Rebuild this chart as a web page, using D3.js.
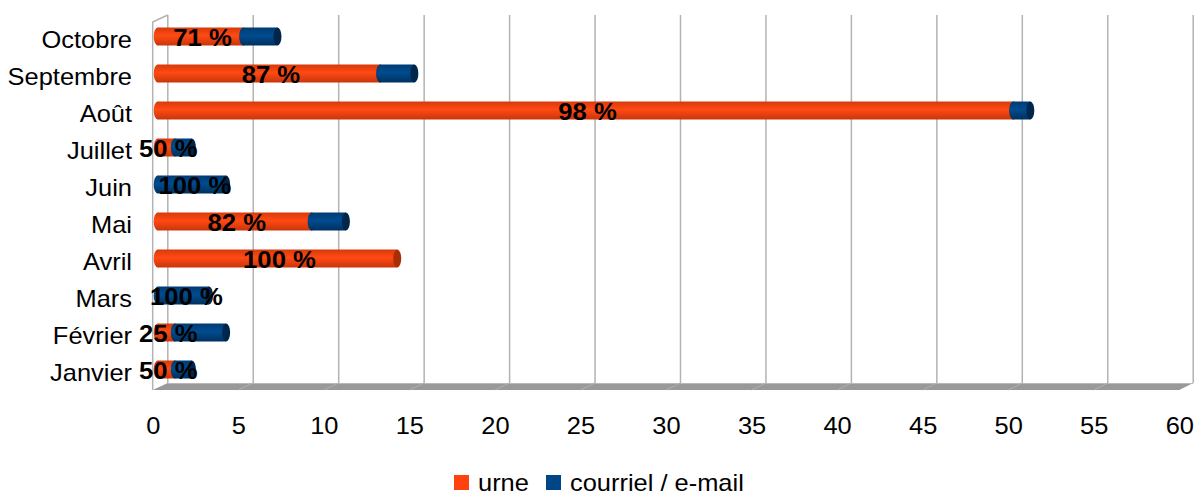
<!DOCTYPE html>
<html>
<head>
<meta charset="utf-8">
<script src="https://cdn.jsdelivr.net/npm/d3@7"></script>
<style>
  body { margin: 0; background: #fff; }
  svg { display: block; font-family: "Liberation Sans", Arial, sans-serif; }
</style>
</head>
<body>
<svg id="chart" width="1194" height="497"></svg>
<script>
// data, Janvier -> Octobre
const months = ["Janvier", "Février", "Mars", "Avril", "Mai", "Juin", "Juillet", "Août", "Septembre", "Octobre"];
const urne = [1, 1, 0, 14, 9, 0, 1, 50, 13, 5];
const courriel = [1, 3, 3, 0, 2, 4, 1, 1, 2, 2];
const pctLabels = ["50 %", "25 %", "100 %", "100 %", "82 %", "100 %", "50 %", "98 %", "87 %", "71 %"];
const series = ["urne", "courriel / e-mail"];
const xTicks = d3.range(0, 61, 5);

const colors = { urne: "#ff420e", courriel: "#004586" };

const svg = d3.select("#chart");

// text in the original is a bit wider than the font here
const stretch = 1.06;

// 3D-ish box: front plane and back plane
const floorBack = 383, floorFront = 390, wallTop = 15;
const xFront = d3.scaleLinear().domain([0, 60]).range([152.7, 1179.3]);
const xBack = d3.scaleLinear().domain([0, 60]).range([167.8, 1193.2]);
const xBar = d3.scaleLinear().domain([0, 60]).range([157.7, 1184.3]);

const y = d3.scaleBand()
  .domain(months.slice().reverse())
  .range([18, 388])
  .paddingInner(0.5)
  .paddingOuter(0.25);

const defs = svg.append("defs");
function grad(id, top, mid, bottom) {
  const g = defs.append("linearGradient").attr("id", id)
    .attr("x1", 0).attr("y1", 0).attr("x2", 0).attr("y2", 1);
  g.append("stop").attr("offset", "0%").attr("stop-color", top);
  g.append("stop").attr("offset", "45%").attr("stop-color", mid);
  g.append("stop").attr("offset", "100%").attr("stop-color", bottom);
}
grad("gUrne", "#d8390b", "#ff4a14", "#c9350a");
grad("gCour", "#003b73", "#004c90", "#00305e");

// back gridlines
svg.append("g")
  .selectAll("line")
  .data(xTicks)
  .enter().append("line")
  .attr("x1", d => xBack(d)).attr("x2", d => xBack(d))
  .attr("y1", wallTop).attr("y2", floorBack)
  .attr("stroke", "#b3b3b3")
  .attr("stroke-width", 1.5);

// left side wall edges
svg.append("path")
  .attr("d", `M${xFront(0)},${floorFront} L${xFront(0)},${wallTop + 7} L${xBack(0)},${wallTop}`)
  .attr("fill", "none")
  .attr("stroke", "#b3b3b3")
  .attr("stroke-width", 1.5);

// floor
svg.append("path")
  .attr("d", `M${xBack(0)},${floorBack} L${xBack(60)},${floorBack} L${xFront(60)},${floorFront} L${xFront(0)},${floorFront} Z`)
  .attr("fill", "#999999");
svg.append("line")
  .attr("x1", xBack(0)).attr("x2", xBack(60))
  .attr("y1", floorBack + 0.5).attr("y2", floorBack + 0.5)
  .attr("stroke", "#b8b8b8");
svg.append("g")
  .selectAll("line")
  .data(xTicks.filter(d => d > 0 && d < 60))
  .enter().append("line")
  .attr("x1", d => xBack(d)).attr("y1", floorBack)
  .attr("x2", d => xFront(d)).attr("y2", floorFront)
  .attr("stroke", "#b0b0b0")
  .attr("stroke-width", 1);

// bars as cylinders
const rows = months.map((m, i) => ({ month: m, urne: urne[i], courriel: courriel[i], label: pctLabels[i] }));
const bh = 18, rx = 4;

function drawSegment(g, x0, x1, cy, fill, cap) {
  g.append("ellipse").attr("cx", xBar(x0)).attr("cy", cy).attr("rx", rx).attr("ry", bh / 2).attr("fill", fill);
  g.append("rect").attr("x", xBar(x0)).attr("y", cy - bh / 2)
    .attr("width", xBar(x1) - xBar(x0)).attr("height", bh).attr("fill", fill);
  g.append("ellipse").attr("cx", xBar(x1)).attr("cy", cy).attr("rx", rx).attr("ry", bh / 2).attr("fill", cap);
}

const barG = svg.append("g");
rows.forEach(d => {
  const cy = y(d.month) + y.bandwidth() / 2;
  const g = barG.append("g");
  if (d.urne > 0) drawSegment(g, 0, d.urne, cy, "url(#gUrne)", "#a82e08");
  if (d.courriel > 0) drawSegment(g, d.urne, d.urne + d.courriel, cy, "url(#gCour)", "#00264c");
});

// percentage labels
svg.append("g")
  .selectAll("text")
  .data(rows)
  .enter().append("text")
  .attr("transform", d => {
    const lx = d.urne > 0 ? xBar(d.urne / 2) + 2 : xBar(d.courriel / 2) + 3;
    const ly = y(d.month) + y.bandwidth() / 2 + 9;
    return `translate(${lx},${ly}) scale(1.07,1)`;
  })
  .attr("text-anchor", "middle")
  .attr("font-size", 24)
  .attr("font-weight", "bold")
  .attr("fill", "#000")
  .text(d => d.label);

// category labels
svg.append("g")
  .selectAll("text")
  .data(rows)
  .enter().append("text")
  .attr("transform", d => `translate(132,${y(d.month) + y.bandwidth() / 2 + 11.5}) scale(${stretch},1)`)
  .attr("text-anchor", "end")
  .attr("font-size", 24)
  .attr("fill", "#000")
  .text(d => d.month);

// x axis
const xAxis = svg.append("g")
  .attr("transform", `translate(0,${floorFront})`)
  .call(d3.axisBottom(xFront).tickValues(xTicks).tickSize(0).tickFormat(d3.format("d")));
xAxis.select(".domain").remove();
xAxis.selectAll("text")
  .attr("y", 0).attr("dy", 0)
  .attr("transform", `translate(0,44) scale(${stretch},1)`)
  .attr("font-size", 24)
  .attr("font-family", "Liberation Sans, Arial, sans-serif")
  .attr("fill", "#000");

// legend at the bottom edge
const legend = svg.append("g");
const legItems = [
  { name: series[0], color: colors.urne, x: 454 },
  { name: series[1], color: colors.courriel, x: 546 }
];
legItems.forEach(it => {
  legend.append("rect").attr("x", it.x).attr("y", 475).attr("width", 15).attr("height", 15).attr("fill", it.color);
  legend.append("text")
    .attr("transform", `translate(${it.x + 24},491) scale(${stretch},1)`)
    .attr("font-size", 24).attr("fill", "#000").text(it.name);
});
</script>
</body>
</html>
